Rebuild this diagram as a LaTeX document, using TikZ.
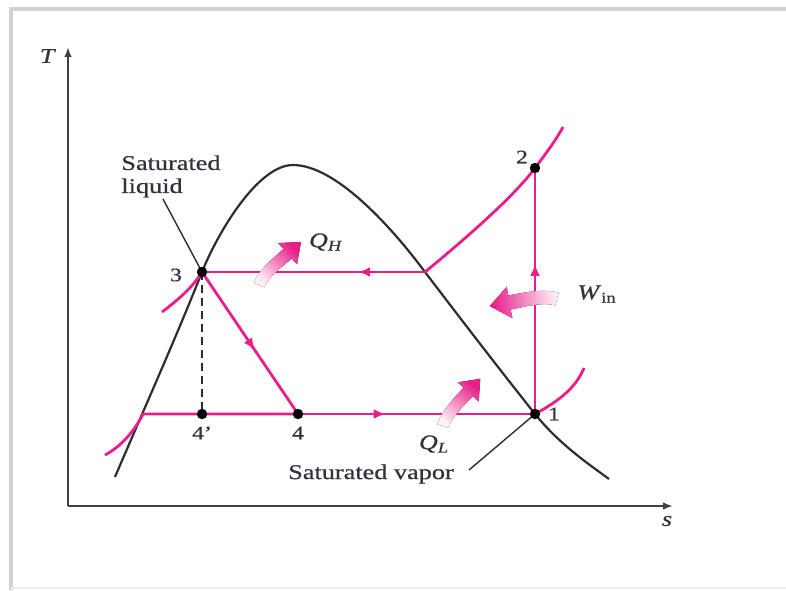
\documentclass[tikz,border=0pt]{standalone}
\usepackage{fontspec}
\setmainfont{Liberation Serif}[FakeStretch=1.25,FakeBold=0.6]
\usetikzlibrary{arrows.meta,decorations.markings}

\definecolor{cyclepink}{RGB}{232,30,138}
\definecolor{domegray}{RGB}{45,45,45}
\definecolor{textgray}{RGB}{50,50,60}

% fat curved heat/work arrow, tail at the origin; #1 = shading angle
\tikzset{heatarrow/.pic={
  \fill[bottom color=cyclepink!6,top color=cyclepink,shading angle=#1]
    (5.1,2.2) .. controls (9.9,-8.8) and (22.3,-17.4) .. (31.3,-25.3)
    -- (36.2,-19.6) -- (40,-41) -- (18.2,-39.9) -- (23.3,-34.3)
    .. controls (12.8,-25.1) and (0.5,-15.1) .. (-5.1,-2.2) -- cycle;
}}

\begin{document}
\begin{tikzpicture}[x=0.5pt,y=-0.5pt,
  cycleline/.style={cyclepink,line width=1.4pt},
  domeline/.style={domegray,line width=1.1pt},
  axisline/.style={black!75,line width=1.3pt,-{Latex[length=5pt,width=3.8pt]}},
  leader/.style={domegray,line width=0.7pt},
  statedot/.style={circle,fill=black,inner sep=0pt,minimum size=5.2pt},
  lbl/.style={text=textgray,font=\fontsize{10.5}{11.5}\selectfont,inner sep=0pt},
  numlbl/.style={lbl,font=\fontsize{9.5}{11}\selectfont},
  flowtip/.style={postaction={decorate},decoration={markings,
    mark=at position #1 with {\arrow{Latex[length=6pt,width=5pt]}}}}]
\useasboundingbox (0,0) rectangle (786,590);
% frame
\draw[black!18,line width=2pt] (11,590) -- (11,9) -- (786,9);
\draw[black!8,line width=1pt] (11,588) -- (786,588);

% axes
\coordinate (origin) at (68,506);
\coordinate (ttop) at (68,47);
\coordinate (send) at (673,506);
\draw[axisline] (origin) -- (ttop);
\draw[axisline] (origin) -- (send);
\node[lbl] (tlabel) at (48,56) {\textit{T}};
\node[lbl] (slabel) at (667,521) {\textit{s}};

% state points
\foreach \n/\x/\y in {1/535/414,2/535/168,3/202/272,4/298/414,4p/202/414}
  \coordinate (p\n) at (\x,\y);
\coordinate (domeL) at (115,477);
\coordinate (domeR) at (609,479);
\coordinate (peak) at (293,165);
\coordinate (pg) at (425,272);
\coordinate (pf) at (143,414);
\coordinate (lowL) at (105,455);
\coordinate (lowR) at (584,368);
\coordinate (highL) at (162,312);
\coordinate (highR) at (563,127);

% saturation dome
\draw[domeline] (domeL) .. controls (144,409) and (175,340) .. (p3)
  .. controls (218,232) and (258,165) .. (peak)
  .. controls (335,165) and (390,225) .. (pg)
  .. controls (460,318) and (500,370) .. (p1)
  .. controls (560,445) and (590,465) .. (domeR);

% isobars and cycle
\draw[cycleline] (lowL) .. controls (122,446) and (135,430) .. (pf) -- (p4);
\draw[cycleline,flowtip=0.37] (p4) -- (p1);
\draw[cycleline] (p1) .. controls (555,403) and (575,390) .. (lowR);
\draw[cycleline,flowtip=0.61] (p1) -- (p2);
\draw[cycleline] (p2) .. controls (547,152) and (556,140) .. (highR);
\draw[cycleline] (p2) .. controls (515,195) and (470,235) .. (pg);
\draw[cycleline,flowtip=0.3] (pg) -- (p3);
\draw[cycleline] (highL) .. controls (178,300) and (193,287) .. (p3);
\draw[cycleline,flowtip=0.55] (p3) -- (p4);
\draw[domegray,line width=0.9pt,dash pattern=on 4pt off 2.5pt] (p3) -- (p4p);

% leaders
\coordinate (liqtip) at (163,199);
\coordinate (vaptip) at (469,470);
\draw[leader] (liqtip) -- (p3);
\draw[leader] (vaptip) -- (p1);

% heat and work arrows
\pic[scale=1.05] (qharrow) at (259,285) {heatarrow=-44};
\pic[rotate=6,scale=1.05] (qlarrow) at (443,426) {heatarrow=-38};
\pic[rotate=51.7,xscale=-1,scale=1.18] (winarrow) at (557,299) {heatarrow=96};

% dots
\foreach \n in {1,2,3,4,4p}
  \node[statedot] (n\n) at (p\n) {};

% labels
\node[lbl,align=left,anchor=north west] (liqlabel) at (121,155) {Saturated\\liquid};
\node[lbl] (vaplabel) at (371,474) {Saturated vapor};
\node[lbl] (qhlabel) at (326,242) {\textit{Q}\textsubscript{\textit{H}}};
\node[lbl] (qllabel) at (434,444) {\textit{Q}\textsubscript{\textit{L}}};
\node[lbl] (winlabel) at (597,294) {\textit{W}\textsubscript{in}};
\foreach \n/\x/\y/\t in {1/554/414/1,2/522/157/2,3/176/275/3,4/298/433/4,4p/202/433/{4'}}
  \node[numlbl] (lbl\n) at (\x,\y) {\t};
\end{tikzpicture}
\end{document}
